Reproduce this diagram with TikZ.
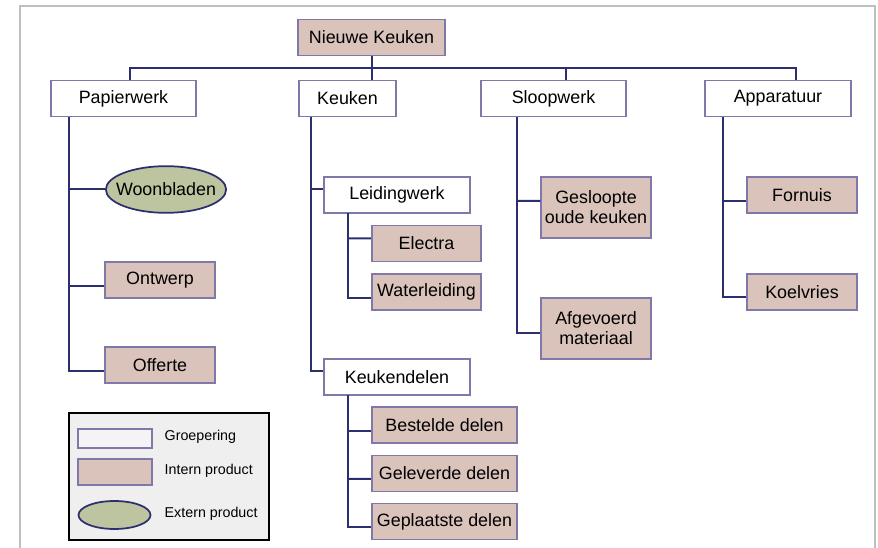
\documentclass[tikz,border=0pt]{standalone}
\usepackage{fontspec}
\setmainfont{Liberation Sans}
\usetikzlibrary{shapes.geometric}

\definecolor{navy}{HTML}{2B2F6E}
\definecolor{lila}{HTML}{8078A8}
\definecolor{intern}{HTML}{D9C3BA}
\definecolor{extern}{HTML}{BCC4A0}
\definecolor{legbg}{HTML}{EEEFEE}
\definecolor{groep}{HTML}{F6F3F6}

\tikzset{
  box/.style={draw=lila,line width=1.3pt,align=center,inner sep=1pt,
    minimum height=27pt,font=\fontsize{13.4}{15}\selectfont},
  groepbox/.style={box,fill=white},
  internbox/.style={box,fill=intern},
  externbox/.style={box,ellipse,draw=navy,fill=extern,inner sep=0pt},
  conn/.style={draw=navy,line width=1.5pt},
  legtext/.style={anchor=west,font=\fontsize{10.7}{12}\selectfont}
}

\begin{document}
\begin{tikzpicture}[x=0.75pt,y=-0.75pt]
    \useasboundingbox (0,0) rectangle (878,548);
    %% frame
    \draw[gray!50,line width=1.2pt] (20,570) |- (875,6) -- (875,570);

    %% top level
    \node[internbox,minimum width=110pt] (root) at (371.5,37.5) {Nieuwe Keuken};
    \node[groepbox,minimum width=109pt] (pap) at (123.5,98.5) {Papierwerk};
    \node[groepbox,minimum width=73pt] (keu) at (347.5,98.5) {Keuken};
    \node[groepbox,minimum width=109pt] (sloop) at (553.5,98.5) {Sloopwerk};
    \node[groepbox,minimum width=109pt] (app) at (778,98.5) {Apparatuur};

    %% papierwerk
    \node[externbox,inner xsep=-5.6pt,minimum width=90pt,minimum height=35pt] (woon) at (166,189.5) {Woonbladen};
    \node[internbox,minimum width=82pt] (ontw) at (160,280) {Ontwerp};
    \node[internbox,minimum width=82pt] (offerte) at (160,365) {Offerte};

    %% keuken
    \node[groepbox,minimum width=109pt] (leid) at (397,195) {Leidingwerk};
    \node[internbox,minimum width=82pt] (electra) at (426.5,243.5) {Electra};
    \node[internbox,minimum width=82pt] (water) at (426.5,292) {Waterleiding};
    \node[groepbox,minimum width=109pt] (kdelen) at (397,377) {Keukendelen};
    \node[internbox,minimum width=109pt] (besteld) at (444.5,425) {Bestelde delen};
    \node[internbox,minimum width=109pt] (geleverd) at (444.5,473.5) {Geleverde delen};
    \node[internbox,minimum width=109pt] (geplaatst) at (444.5,521.5) {Geplaatste delen};

    %% sloopwerk
    \node[internbox,minimum width=82pt,minimum height=46pt] (gesloopt) at (596,207.5) {Gesloopte\\oude keuken};
    \node[internbox,minimum width=82pt,minimum height=46pt] (afgevoerd) at (596,328.5) {Afgevoerd\\materiaal};

    %% apparatuur
    \node[internbox,minimum width=82pt] (fornuis) at (802,195) {Fornuis};
    \node[internbox,minimum width=82pt] (koel) at (802,292) {Koelvries};

    %% bus
    \coordinate (dpap) at (130,68);
    \coordinate (dsloop) at (566,68);
    \coordinate (dapp) at (796,68);
    \draw[conn] (dpap |- pap.north) -- (dpap) -- (dapp) -- (dapp |- app.north);
    \draw[conn] (root.south) -- (root.south |- keu.north);
    \draw[conn] (dsloop) -- (dsloop |- sloop.north);

    %% trunks
    \coordinate (tpap) at (69,117);
    \coordinate (tkeu) at (311,117);
    \coordinate (tleid) at (348,213);
    \coordinate (tkdel) at (348,395);
    \coordinate (tsloop) at (517,117);
    \coordinate (tapp) at (723,117);
    \draw[conn] (tpap) |- ([yshift=-4.5pt]offerte.west);
    \draw[conn] (tpap |- woon.west) -- (woon.west);
    \draw[conn] (tpap |- ontw.west) ++(0,6) -- ([yshift=-4.5pt]ontw.west);
    \draw[conn] (tkeu) |- ([yshift=4.5pt]kdelen.west);
    \draw[conn] (tkeu |- leid.west) ++(0,-6) -- ([yshift=4.5pt]leid.west);
    \draw[conn] (tleid) |- ([yshift=-4.5pt]water.west);
    \draw[conn] (tleid |- electra.west) ++(0,-5) -- ([yshift=3.8pt]electra.west);
    \draw[conn] (tkdel) |- ([yshift=-4.5pt]geplaatst.west);
    \draw[conn] (tkdel |- besteld.west) ++(0,6) -- ([yshift=-4.5pt]besteld.west);
    \draw[conn] (tkdel |- geleverd.west) ++(0,5.5) -- ([yshift=-4.1pt]geleverd.west);
    \draw[conn] (tsloop) |- ([yshift=-3.4pt]afgevoerd.west);
    \draw[conn] (tsloop |- gesloopt.west) ++(0,-6.5) -- ([yshift=4.9pt]gesloopt.west);
    \draw[conn] (tapp) |- ([yshift=-3.8pt]koel.west);
    \draw[conn] (tapp |- fornuis.west) ++(0,6) -- ([yshift=-4.5pt]fornuis.west);

    %% legend
    \node[draw=black,fill=legbg,line width=1.5pt,minimum width=150pt,minimum height=95pt] (legend) at (168.5,476.5) {};
    \node[box,fill=groep,minimum width=55pt,minimum height=14pt] (lgroep) at (115,438.5) {};
    \node[box,fill=intern,minimum width=55pt,minimum height=19pt] (lintern) at (115,472) {};
    \node[externbox,minimum width=54pt,minimum height=21pt] (lextern) at (114.5,515) {};
    \node[legtext] at (160,437) {Groepering};
    \node[legtext] at (160,471) {Intern product};
    \node[legtext] at (160,514) {Extern product};
\end{tikzpicture}
\end{document}
